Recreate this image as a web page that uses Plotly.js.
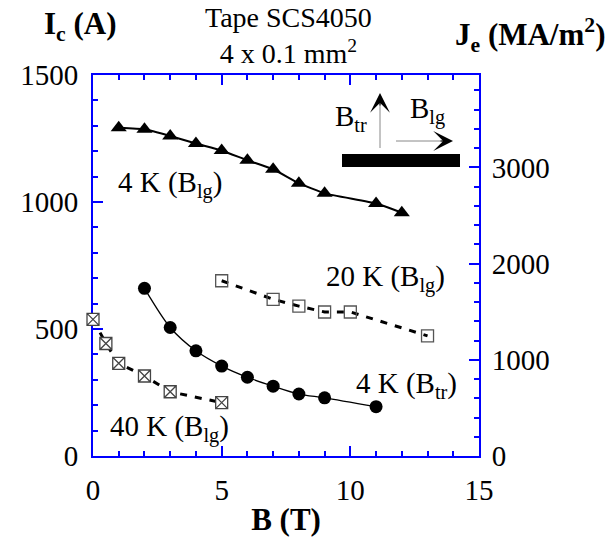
<!DOCTYPE html>
<html>
<head>
<meta charset="utf-8">
<script src="https://cdn.plot.ly/plotly-3.0.1.min.js"></script>
<style>html,body{margin:0;padding:0;background:#fff;}#chart{width:615px;height:540px;}</style>
</head>
<body>
<div id="chart"></div>
<script>
// Data (B in T, Ic in A)
const B_4K_lg = [1, 2, 3, 4, 5, 6, 7, 8, 9, 11, 12];
const Ic_4K_lg = [1292, 1286, 1260, 1230, 1203, 1164, 1129, 1074, 1034, 994, 958];
const B_4K_tr = [2, 3, 4, 5, 6, 7, 8, 9, 11];
const Ic_4K_tr = [660, 506, 414, 354, 310, 275, 244, 229, 194];
const B_20K_lg = [5, 7, 8, 9, 10, 13];
const Ic_20K_lg = [690, 617, 590, 567, 567, 473];
const B_40K_lg = [0, 0.5, 1, 2, 3, 5];
const Ic_40K_lg = [538, 443, 365, 315, 253, 210];
const xTicks = [0, 5, 10, 15];
const yTicks = [0, 500, 1000, 1500];
const y2Ticks = [0, 1000, 2000, 3000];

const FONT = 'Liberation Serif';
const BLUE = '#0000ff';
const TS = 29;

const traces = [
  {x: B_4K_lg, y: Ic_4K_lg, mode: 'lines+markers', type: 'scatter', cliponaxis: false,
   line: {color: '#000', width: 2, shape: 'spline', smoothing: 0.4},
   marker: {symbol: 'triangle-up', size: 14, color: '#000'}},
  {x: B_4K_tr, y: Ic_4K_tr, mode: 'lines+markers', type: 'scatter', cliponaxis: false,
   line: {color: '#000', width: 1.3, shape: 'spline', smoothing: 0.8},
   marker: {symbol: 'circle', size: 13, color: '#000'}},
  {x: B_20K_lg, y: Ic_20K_lg, mode: 'lines+markers', type: 'scatter', cliponaxis: false,
   line: {color: '#000', width: 3, dash: '7px,8px'},
   marker: {symbol: 'square-open', size: 12, color: '#555', line: {color: '#555', width: 1.3}}},
  {x: B_40K_lg, y: Ic_40K_lg, mode: 'lines+markers', type: 'scatter', cliponaxis: false,
   line: {color: '#000', width: 3, dash: '7px,8px'},
   marker: {symbol: 'square-x', size: 12, color: '#fff', line: {color: '#444', width: 1.3}}},
  // empty helper trace so the top and right (J_e) axes are drawn
  {x: [], y: [], xaxis: 'x2', yaxis: 'y2', type: 'scatter', mode: 'markers', hoverinfo: 'skip', showlegend: false}
];

function px(x) { return (x - 93) / 386; }
function py(y) { return (456 - y) / 381; }
function ann(x, y, text, size, bold, yanchor) {
  return {xref: 'paper', yref: 'paper', x: px(x), y: py(y), xanchor: 'center', yanchor: yanchor || 'middle',
          showarrow: false, text: bold ? '<b>' + text + '</b>' : text,
          font: {family: FONT, size: size, color: '#000'}};
}
const tickStyle = {ticks: 'inside', ticklen: 10, tickwidth: 2, tickcolor: BLUE,
  showline: true, linecolor: BLUE, linewidth: 2, showgrid: false, zeroline: false,
  layer: 'below traces', tickfont: {family: FONT, size: TS, color: '#000'}};

const layout = {
  width: 615, height: 540,
  margin: {l: 93, r: 136, t: 75, b: 84},
  paper_bgcolor: '#fff', plot_bgcolor: '#fff',
  showlegend: false,
  font: {family: FONT, size: TS, color: '#000'},
  xaxis: Object.assign({}, tickStyle, {
    range: [0, 15], tickvals: xTicks, ticktext: xTicks.map(String),
    minor: {dtick: 1, ticks: 'inside', ticklen: 5, tickwidth: 2, tickcolor: BLUE},
    ticklabelstandoff: 7,
    title: {text: '<b>B (T)</b>', font: {family: FONT, size: 31}, standoff: 4}
  }),
  xaxis2: Object.assign({}, tickStyle, {
    overlaying: 'x', side: 'top', anchor: 'y2',
    range: [0, 15], tickvals: xTicks, showticklabels: false,
    minor: {dtick: 1, ticks: 'inside', ticklen: 5, tickwidth: 2, tickcolor: BLUE}
  }),
  yaxis: Object.assign({}, tickStyle, {
    range: [0, 1500], tickvals: yTicks, ticktext: yTicks.map(String),
    minor: {dtick: 100, ticks: 'inside', ticklen: 5, tickwidth: 2, tickcolor: BLUE},
    ticklabelstandoff: 7
  }),
  yaxis2: Object.assign({}, tickStyle, {
    overlaying: 'y', side: 'right', anchor: 'x2',
    range: [0, 3960], tickvals: y2Ticks, ticktext: y2Ticks.map(String),
    minor: {dtick: 200, ticks: 'inside', ticklen: 5, tickwidth: 2, tickcolor: BLUE},
    ticklabelstandoff: 5
  }),
  shapes: [
    {type: 'rect', xref: 'paper', yref: 'paper', x0: px(342), x1: px(460), y0: py(167), y1: py(154),
     fillcolor: '#000', line: {width: 0}},
    {type: 'line', xref: 'paper', yref: 'paper', x0: px(380), x1: px(380), y0: py(148), y1: py(104),
     line: {color: '#888', width: 1}},
    {type: 'line', xref: 'paper', yref: 'paper', x0: px(396), x1: px(442), y0: py(141), y1: py(141),
     line: {color: '#888', width: 1}}
  ],
  annotations: [
    {xref: 'paper', yref: 'paper', x: px(380), y: py(93), ax: 0, ay: 14, showarrow: true,
     arrowhead: 3, arrowsize: 3.3, arrowwidth: 1, arrowcolor: '#000', text: ''},
    {xref: 'paper', yref: 'paper', x: px(453), y: py(141), ax: -14, ay: 0, showarrow: true,
     arrowhead: 3, arrowsize: 3.3, arrowwidth: 1, arrowcolor: '#000', text: ''},
    ann(351, 118, 'B<sub>tr</sub>', TS),
    ann(427, 110, 'B<sub>lg</sub>', TS),
    ann(80, 26, 'I<sub>c</sub> (A)', 31, true),
    ann(530, 35, 'J<sub>e</sub> (MA/m<sup>2</sup>)', 31, true),
    ann(288, 0, 'Tape SCS4050<br>4 x 0.1 mm<sup>2</sup>', 28, false, 'top'),
    {x: 2.98, y: 1070, showarrow: false, text: '4 K (B<sub>lg</sub>)', font: {family: FONT, size: TS}},
    {x: 11.36, y: 700, showarrow: false, text: '20 K (B<sub>lg</sub>)', font: {family: FONT, size: TS}},
    {x: 12.2, y: 280, showarrow: false, text: '4 K (B<sub>tr</sub>)', font: {family: FONT, size: TS}},
    {x: 2.98, y: 110, showarrow: false, text: '40 K (B<sub>lg</sub>)', font: {family: FONT, size: TS}}
  ]
};

Plotly.newPlot('chart', traces, layout, {displayModeBar: false, staticPlot: true});
</script>
</body>
</html>
